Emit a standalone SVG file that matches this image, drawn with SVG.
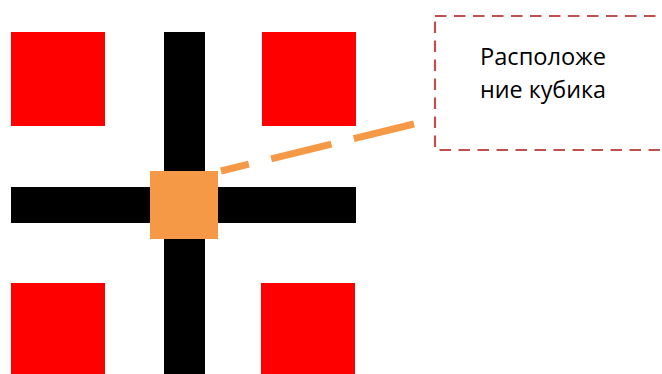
<svg xmlns="http://www.w3.org/2000/svg" width="662" height="374" viewBox="0 0 662 374">
  <style>
    .block { fill: #FF0000; }
    .road { fill: #000000; }
    .cube { fill: #F59946; }
    .callout { fill: #FFFFFF; stroke: #C0504D; stroke-width: 2.2; stroke-dasharray: 11.5 7.5; }
    .leader { fill: none; stroke: #F59946; stroke-width: 7; stroke-dasharray: 62 23; }
    .label { font-family: "Open Sans", "Noto Sans", "Liberation Sans", sans-serif; font-size: 23px; fill: #000000; }
  </style>
  <rect width="662" height="374" fill="#FFFFFF"/>

  <!-- corner blocks -->
  <g id="block-top-left"><rect class="block" x="11" y="32" width="94" height="94"/></g>
  <g id="block-top-right"><rect class="block" x="262" y="32" width="94" height="94"/></g>
  <g id="block-bottom-left"><rect class="block" x="11" y="283" width="94" height="91"/></g>
  <g id="block-bottom-right"><rect class="block" x="261" y="283" width="94" height="91"/></g>

  <!-- crossing roads -->
  <g id="road-vertical"><rect class="road" x="164" y="32" width="41" height="342"/></g>
  <g id="road-horizontal"><rect class="road" x="11" y="187" width="345" height="36"/></g>

  <!-- cube at the crossing -->
  <g id="cube"><rect class="cube" x="150" y="171" width="68" height="68"/></g>

  <!-- callout -->
  <g id="callout">
    <rect class="callout" x="435" y="16" width="245" height="134"/>
    <text class="label" x="480" y="65" textLength="126" lengthAdjust="spacingAndGlyphs">Расположе</text>
    <text class="label" x="480" y="98" textLength="126" lengthAdjust="spacingAndGlyphs">ние кубика</text>
  </g>

  <g id="connectors">
    <path class="leader" d="M414,124 L221,171"/>
  </g>
</svg>
